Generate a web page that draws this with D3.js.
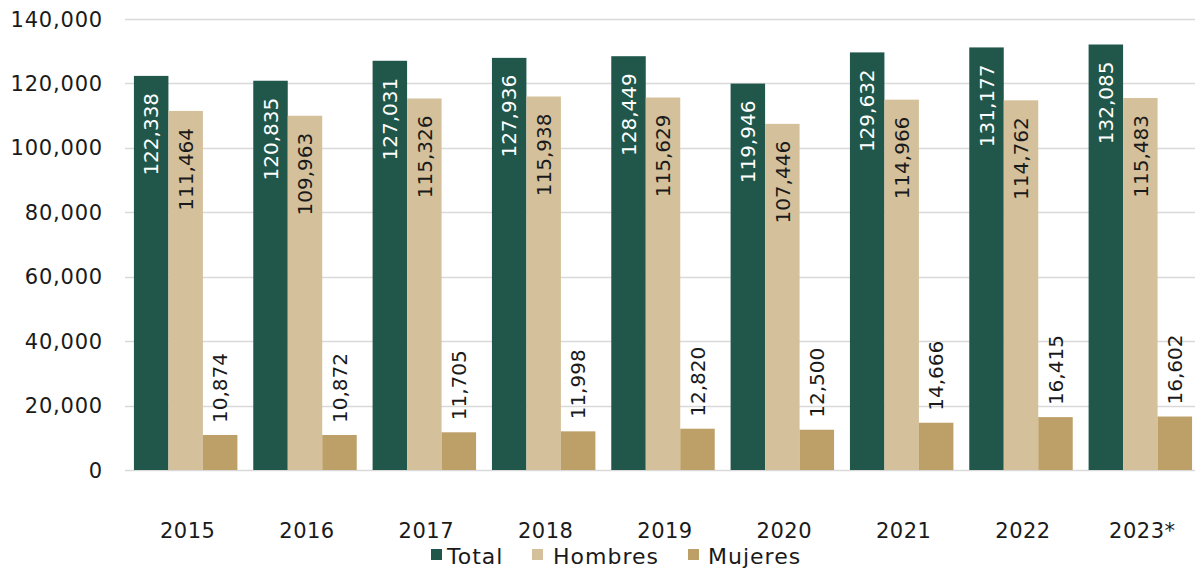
<!DOCTYPE html>
<html lang="en">
  <head>
    <meta charset="UTF-8" />
    <title>Total, Hombres y Mujeres</title>
    <style>
      body { margin: 0; background: #fff; }
      text { font-family: "DejaVu Sans", sans-serif; }
    </style>
  </head>
  <body>
    <div id="chart"></div>
    <script src="https://cdn.jsdelivr.net/npm/d3@7"></script>
    <script>
      const years = ["2015", "2016", "2017", "2018", "2019", "2020", "2021", "2022", "2023*"];
      const total = [122338, 120835, 127031, 127936, 128449, 119946, 129632, 131177, 132085];
      const hombres = [111464, 109963, 115326, 115938, 115629, 107446, 114966, 114762, 115483];
      const mujeres = [10874, 10872, 11705, 11998, 12820, 12500, 14666, 16415, 16602];
      const seriesNames = ["Total", "Hombres", "Mujeres"];
      const yTicks = [0, 20000, 40000, 60000, 80000, 100000, 120000, 140000];

      const colors = { Total: "#20574a", Hombres: "#d4c09b", Mujeres: "#bd9f68" };
      const values = { Total: total, Hombres: hombres, Mujeres: mujeres };

      const width = 1195, height = 572;
      const margin = { top: 19, right: -5, bottom: 102, left: 126 };

      const svg = d3.select("#chart").append("svg")
        .attr("width", width).attr("height", height);

      const x0 = d3.scaleBand()
        .domain(years)
        .range([margin.left, width - margin.right]);

      const x1 = d3.scaleBand()
        .domain(seriesNames)
        .range([0, x0.bandwidth()])
        .paddingOuter(0.23);

      const y = d3.scaleLinear()
        .domain([0, 140000])
        .range([height - margin.bottom, margin.top]);

      const fmt = d3.format(",");

      // grid
      svg.append("g")
        .selectAll("line")
        .data(yTicks)
        .join("line")
        .attr("x1", 125)
        .attr("x2", width)
        .attr("y1", d => Math.round(y(d)) + 0.5)
        .attr("y2", d => Math.round(y(d)) + 0.5)
        .attr("stroke", "#d9d9d9")
        .attr("stroke-width", 1.5);

      // y labels
      svg.append("g")
        .selectAll("text")
        .data(yTicks)
        .join("text")
        .attr("x", 103)
        .attr("y", d => y(d))
        .attr("dy", "0.36em")
        .attr("text-anchor", "end")
        .attr("font-size", 21)
        .attr("letter-spacing", 0.8)
        .attr("fill", "#1a1a1a")
        .text(d => fmt(d));

      // bars
      const groups = svg.append("g")
        .selectAll("g")
        .data(years)
        .join("g")
        .attr("transform", d => `translate(${x0(d)},0)`);

      groups.selectAll("rect")
        .data((d, i) => seriesNames.map(s => ({ s, v: values[s][i] })))
        .join("rect")
        .attr("x", d => x1(d.s))
        .attr("width", x1.bandwidth())
        .attr("y", d => y(d.v))
        .attr("height", d => y(0) - y(d.v))
        .attr("fill", d => colors[d.s]);

      // labels
      groups.selectAll("text")
        .data((d, i) => seriesNames.map(s => ({ s, v: values[s][i] })))
        .join("text")
        .attr("transform", d => {
          const cx = x1(d.s) + x1.bandwidth() / 2;
          const ty = d.s === "Mujeres" ? y(d.v) - 12 : y(d.v) + 17;
          return `translate(${cx},${ty}) rotate(-90)`;
        })
        .attr("dy", "0.36em")
        .attr("text-anchor", d => d.s === "Mujeres" ? "start" : "end")
        .attr("font-size", 20)
        .attr("fill", d => d.s === "Total" ? "#ffffff" : "#1a1a1a")
        .text(d => fmt(d.v));

      // x labels
      svg.append("g")
        .selectAll("text")
        .data(years)
        .join("text")
        .attr("x", d => x0(d) + x0.bandwidth() / 2 + 2)
        .attr("y", 538)
        .attr("text-anchor", "middle")
        .attr("font-size", 21)
        .attr("letter-spacing", 0.5)
        .attr("fill", "#1a1a1a")
        .text(d => d);

      // legend
      const legendX = [431, 532, 688];
      const legendTextX = [447, 553, 708];
      const legend = svg.append("g")
        .selectAll("g")
        .data(seriesNames)
        .join("g")
        .attr("transform", (d, i) => `translate(${legendX[i]},549)`);
      legend.append("rect")
        .attr("width", 11).attr("height", 11)
        .attr("fill", d => colors[d]);
      legend.append("text")
        .attr("x", (d, i) => legendTextX[i] - legendX[i])
        .attr("y", 15)
        .attr("font-size", 22)
        .attr("letter-spacing", 1)
        .attr("fill", "#1a1a1a")
        .text(d => d);
    </script>
  </body>
</html>
